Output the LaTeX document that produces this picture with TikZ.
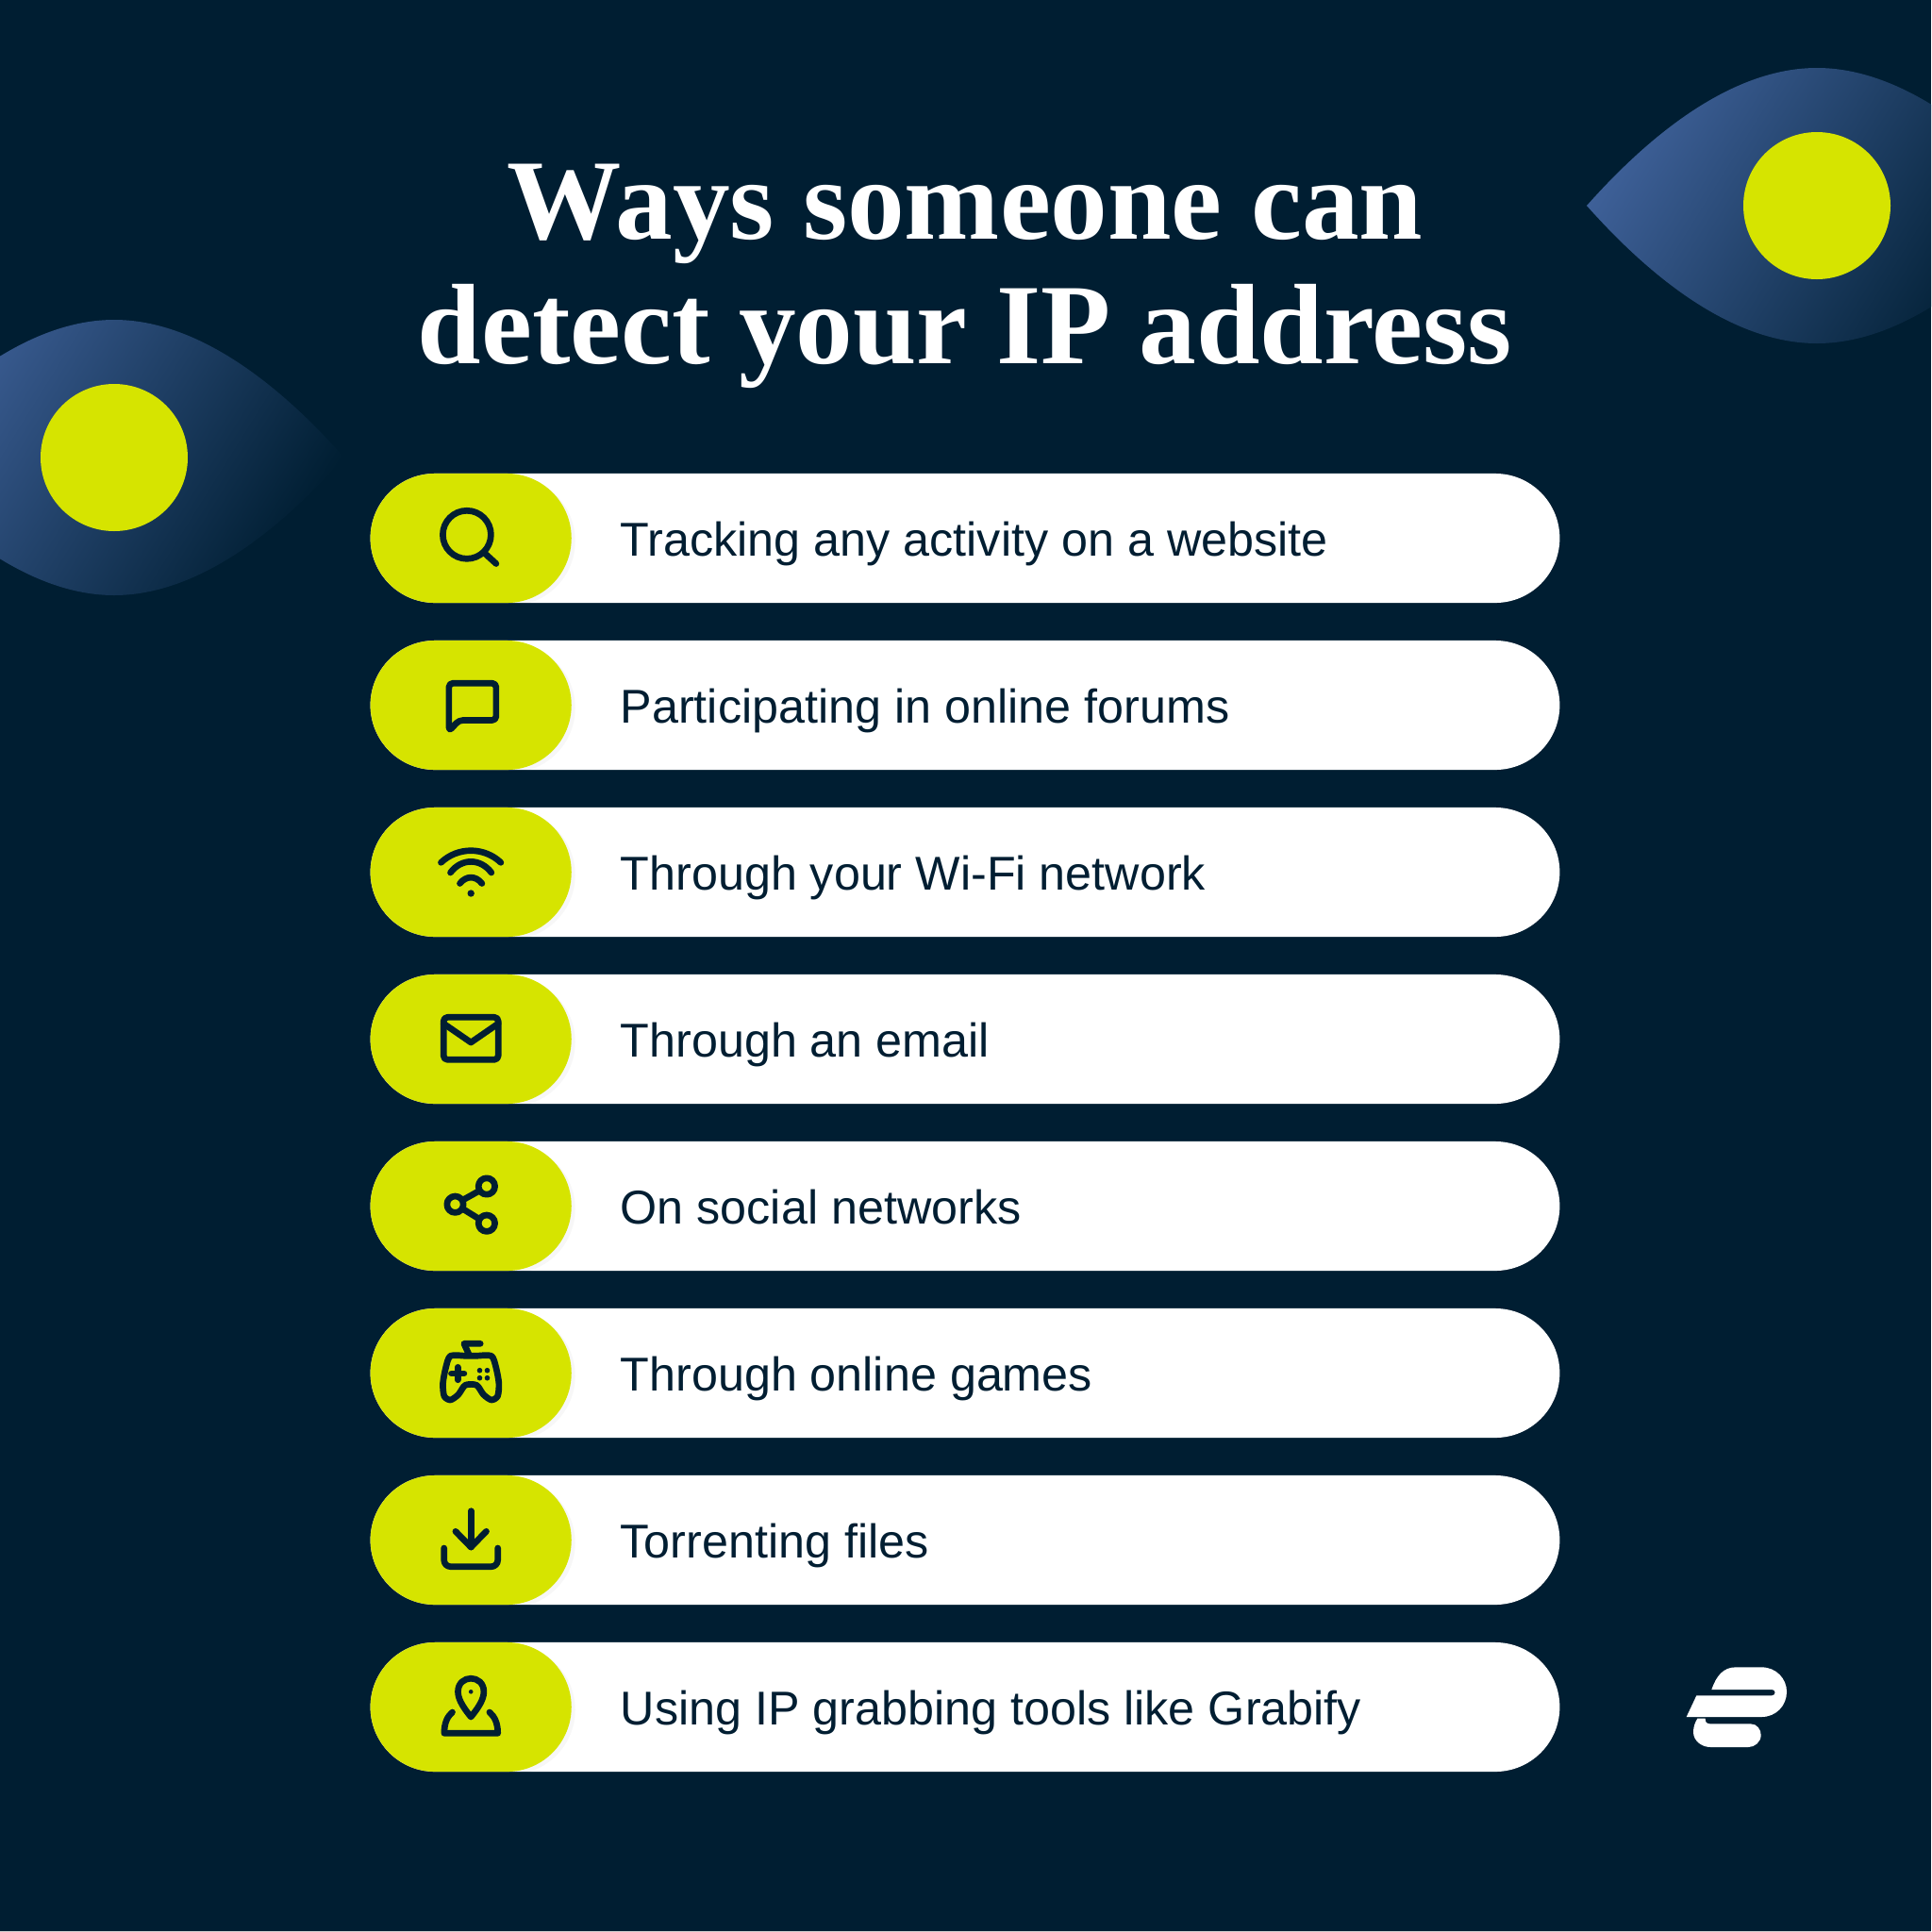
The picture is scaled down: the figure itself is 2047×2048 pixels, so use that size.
\documentclass[tikz,border=0pt]{standalone}
\usepackage{fontspec}
\setmainfont{Liberation Sans}
\newfontfamily\titlefont{Liberation Serif}
\usetikzlibrary{positioning,shadows}
\definecolor{navybg}{RGB}{0,30,50}
\definecolor{inkdark}{RGB}{1,30,50}
\definecolor{limetag}{RGB}{214,228,0}
\definecolor{eyeblue}{RGB}{62,96,152}
\tikzset{
    pillbar/.style={fill=white, minimum width=12.6cm, minimum height=1.37cm,
        rounded corners=.685cm, inner sep=0pt, outer sep=0pt},
    pilltag/.style={fill=limetag, minimum width=2.13cm, minimum height=1.37cm,
        rounded corners=.685cm, inner sep=0pt, outer sep=0pt,
        drop shadow={shadow xshift=.04cm, shadow yshift=-.03cm, opacity=.03, fill=black}},
    pilltext/.style={text=inkdark, font=\fontsize{14.3}{17}\selectfont, inner sep=0pt},
    icon/.style={draw=inkdark, line width=1.9pt, line cap=round, line join=round},
    icondot/.style={fill=inkdark},
    eyelid/.style={left color=eyeblue, right color=navybg, shading angle=58},
}

\begin{document}
\begin{tikzpicture}[x=.01cm,y=-.01cm]
\useasboundingbox (0,0) rectangle (2047,2048);
\fill[navybg] (0,0) rectangle (2047,2048);
\fill[black!20] (0,2047) rectangle (2047,2048);

% eyes
\begin{scope}
\clip (0,0) rectangle (2047,2048);
\foreach \eyex/\eyey in {1926/218,121/485}{
    \shade[eyelid, shift={(\eyex,\eyey)}] (-244,0)
        .. controls (-164,-90) and (-80,-146) .. (0,-146)
        .. controls (80,-146) and (164,-90) .. (244,0)
        .. controls (164,90) and (80,146) .. (0,146)
        .. controls (-80,146) and (-164,90) .. (-244,0) -- cycle;
    \fill[limetag] (\eyex,\eyey) circle (78);
}
\end{scope}

\node[text=white, font=\titlefont\bfseries\fontsize{34.5}{37.6}\selectfont, align=center,
      inner sep=0pt] (title) at (1023,293) {Ways someone can\\detect your IP address};

\foreach \rowtext [count=\i] in {Tracking any activity on a website,
    Participating in online forums, Through your Wi-Fi network, Through an email,
    On social networks, Through online games, Torrenting files,
    Using IP grabbing tools like Grabify}{
    \pgfmathsetmacro\rowy{570.5+177*(\i-1)}
    \node[pillbar] (bar\i) at (1023,\rowy) {};
    \node[pilltag, anchor=west] (tag\i) at (bar\i.west) {};
    \node[pilltext, anchor=base west] (label\i) at (657,\rowy+19) {\rowtext};
}

% magnifier
\begin{scope}[shift={(tag1)}]
\draw[icon] (-4.3,-3.7) circle (25.5);
\draw[icon] (15,16.3) -- (26.7,27);
\end{scope}

% speech bubble
\begin{scope}[shift={(tag2)}]
\draw[icon, rounded corners=1.2pt] (-23.3,27.7) -- (-23.3,-23.3) -- (26.7,-23.3) -- (26.7,16) -- (-12.7,16) -- cycle;
\end{scope}

% wifi
\begin{scope}[shift={(tag3)}]
\draw[icon] (-31.7,-10.2) .. controls (-14,-27) and (14,-27) .. (31.7,-10.2);
\draw[icon] (-21.7,.5) .. controls (-10,-15) and (10,-15) .. (21.7,.5);
\draw[icon] (-11.7,12) .. controls (-5,3.5) and (5,3.5) .. (11.7,12);
\fill[icondot] (0,22.5) circle (3.7);
\end{scope}

% envelope
\begin{scope}[shift={(tag4)}]
\draw[icon, rounded corners=1.2pt] (-29,-23.2) rectangle (29,21.8);
\draw[icon] (-29,-16.5) -- (0,3.5) -- (29,-16.5);
\end{scope}

% share
\begin{scope}[shift={(tag5)}]
\draw[icon] (16.7,-21) circle (8.7) (-16.7,-1.8) circle (8.7) (16.7,18.2) circle (8.7);
\draw[icon] (-8.5,-6.5) -- (8.5,-16);
\draw[icon] (-8.5,3) -- (8.5,13.5);
\end{scope}

% game pad
\begin{scope}[shift={(tag6)}]
\draw[icon] plot[smooth cycle, tension=.45] coordinates {(-21.7,-18.2) (-5,-18.2) (5,-18.2) (21.7,-18.2)
    (26.7,-5.5) (29.7,11.2) (28.3,24.5) (21.7,28.5) (13.3,22.8) (6,12.8) (-6,12.8) (-13.3,22.8)
    (-21.7,28.5) (-28.3,24.5) (-29.7,11.2) (-26.7,-5.5)};
\draw[icon] (10,-31.2) -- (-7.3,-31.2) -- (-1.7,-18.8);
\draw[icon] (-20.7,.5) -- (-7.3,.5) (-14,-6.2) -- (-14,7.2);
\foreach \dotx/\doty in {9.3/-2.8,17.3/-2.8,9.3/5.2,17.3/5.2}
    \fill[icondot] (\dotx,\doty) circle (2.8);
\end{scope}

% download
\begin{scope}[shift={(tag7)}]
\draw[icon] (0,-30.8) -- (0,7.5);
\draw[icon] (-16.3,-9.2) -- (0,7.5) -- (16.3,-9.2);
\draw[icon, rounded corners=2pt] (-28.5,8.5) -- (-28.5,28.2) -- (28.5,28.2) -- (28.5,8.5);
\end{scope}

% map pin
\begin{scope}[shift={(tag8)}]
\draw[icon] (0,10.5) .. controls (-6,3) and (-13.7,-7) .. (-13.7,-16.2)
    .. controls (-13.7,-35) and (13.7,-35) .. (13.7,-16.2)
    .. controls (13.7,-7) and (6,3) .. (0,10.5) -- cycle;
\fill[icondot] (0,-16.2) circle (2.3);
\draw[icon] (-19.7,5.5) .. controls (-25,10) and (-28.3,17) .. (-28.3,27.8) -- (28.5,27.8)
    .. controls (28.5,17) and (25,10) .. (19.7,5.5);
\end{scope}

% logo
\begin{scope}[shift={(1760,1740)}, scale=1/3]
\fill[white] (163,153) .. controls (178,110) and (200,82) .. (240,82) -- (322,82)
    .. controls (368,82) and (402,118) .. (402,160) .. controls (402,204) and (368,240) .. (322,240)
    -- (83,240) -- (115,172) -- (355,172) .. controls (368,172) and (368,153) .. (355,153) -- cycle;
\fill[white] (118,245) -- (143,245) .. controls (142,256) and (148,262) .. (158,262) -- (287,262)
    .. controls (308,262) and (320,280) .. (320,298) .. controls (320,320) and (300,336) .. (280,336)
    -- (160,336) .. controls (130,336) and (105,315) .. (105,288) .. controls (105,272) and (110,258) .. (118,245) -- cycle;
\end{scope}
\end{tikzpicture}
\end{document}
